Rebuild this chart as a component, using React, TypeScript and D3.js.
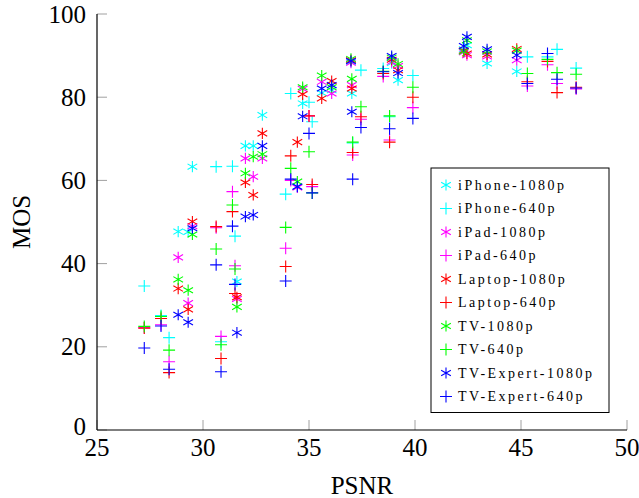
import * as d3 from 'd3';

// PSNR of each test condition (x), shared by all devices
const psnr1080 = [28.83, 29.3, 29.5, 31.6, 32.0, 32.37, 32.8, 34.45, 34.7, 35.6, 36.07, 36.98, 37.02, 38.9, 39.2, 42.3, 42.45, 43.4, 44.8];
const psnr640 = [27.23, 28.02, 28.4, 30.62, 30.85, 31.39, 31.51, 33.9, 34.14, 35.0, 35.15, 37.06, 37.45, 38.5, 38.8, 39.9, 45.3, 46.25, 46.7, 47.6];

// MOS per device, 1080p
const iphone1080 = [47.7, 47.6, 63.3, 35.7, 68.3, 68.3, 75.7, 58.5, 78.5, 81.0, 81.7, 88.5, 80.9, 88.2, 84.1, 91.5, 92.5, 88.1, 86.2];
const ipad1080 = [41.5, 30.5, 49.0, 31.5, 65.3, 60.9, 65.3, 58.3, 82.0, 83.7, 80.9, 88.3, 82.9, 88.5, 87.5, 90.8, 90.1, 89.8, 88.9];
const laptop1080 = [34.0, 29.0, 50.1, 31.9, 59.5, 56.5, 71.3, 69.2, 80.7, 79.7, 83.9, 88.9, 82.1, 89.0, 86.5, 91.2, 90.5, 90.3, 91.6];
const tv1080 = [36.2, 33.6, 47.0, 29.6, 61.7, 65.7, 66.3, 59.7, 82.4, 85.2, 82.4, 89.2, 84.4, 89.5, 88.0, 91.0, 93.7, 91.0, 91.2];
const expert1080 = [27.7, 25.9, 48.5, 23.4, 51.3, 51.7, 68.3, 58.5, 75.4, 82.1, 82.9, 88.7, 76.5, 89.9, 85.8, 92.3, 94.5, 91.5, 90.1];

// MOS per device, 640p
const iphone640 = [34.6, 27.5, 22.2, 63.3, 21.2, 63.4, 46.6, 56.7, 80.9, 78.8, 74.1, 69.0, 86.5, 86.9, 75.3, 85.2, 89.7, 89.7, 91.5, 87.0];
const ipad640 = [24.6, 25.3, 16.4, 48.6, 22.5, 57.3, 39.5, 43.7, 60.0, 75.5, 58.5, 66.1, 74.7, 85.0, 69.7, 77.5, 82.7, 87.8, 83.3, 82.0];
const laptop640 = [24.5, 26.8, 13.8, 48.9, 17.2, 52.5, 32.8, 39.3, 65.9, 75.5, 59.0, 66.7, 75.3, 85.7, 69.2, 80.0, 83.7, 88.6, 81.1, 82.4];
const tv640 = [24.9, 27.3, 19.2, 43.5, 20.5, 54.1, 38.7, 48.7, 62.9, 66.9, 57.0, 69.2, 77.7, 86.2, 75.5, 82.4, 85.7, 89.1, 85.9, 85.5];
const expert640 = [19.7, 25.0, 14.6, 39.7, 14.0, 49.0, 35.0, 35.8, 60.3, 71.3, 57.0, 60.3, 72.7, 86.1, 72.4, 74.9, 83.3, 90.5, 84.3, 82.2];

const xTicks = [25, 30, 35, 40, 45, 50];
const yTicks = [0, 20, 40, 60, 80, 100];

const series = [
  { name: 'iPhone-1080p', color: '#00ffff', mark: 'asterisk', xs: psnr1080, ys: iphone1080 },
  { name: 'iPhone-640p', color: '#00ffff', mark: 'plus', xs: psnr640, ys: iphone640 },
  { name: 'iPad-1080p', color: '#ff00ff', mark: 'asterisk', xs: psnr1080, ys: ipad1080 },
  { name: 'iPad-640p', color: '#ff00ff', mark: 'plus', xs: psnr640, ys: ipad640 },
  { name: 'Laptop-1080p', color: '#ff0000', mark: 'asterisk', xs: psnr1080, ys: laptop1080 },
  { name: 'Laptop-640p', color: '#ff0000', mark: 'plus', xs: psnr640, ys: laptop640 },
  { name: 'TV-1080p', color: '#00ff00', mark: 'asterisk', xs: psnr1080, ys: tv1080 },
  { name: 'TV-640p', color: '#00ff00', mark: 'plus', xs: psnr640, ys: tv640 },
  { name: 'TV-Expert-1080p', color: '#0000ff', mark: 'asterisk', xs: psnr1080, ys: expert1080 },
  { name: 'TV-Expert-640p', color: '#0000ff', mark: 'plus', xs: psnr640, ys: expert640 },
];

const W = 639;
const H = 498;
const margin = { top: 14, right: 12, bottom: 68, left: 97 };
const FONT = '"Liberation Serif", "Times New Roman", serif';

const PLUS_R = 6;
const AST_R = 5.6;
const c30 = Math.cos(Math.PI / 6);
const s30 = Math.sin(Math.PI / 6);

const plusPath = `M${-PLUS_R},0H${PLUS_R}M0,${-PLUS_R}V${PLUS_R}`;
const astPath =
  `M0,${-AST_R}V${AST_R}` +
  `M${-AST_R * c30},${-AST_R * s30}L${AST_R * c30},${AST_R * s30}` +
  `M${-AST_R * c30},${AST_R * s30}L${AST_R * c30},${-AST_R * s30}`;

function markPath(mark: string) {
  return mark === 'plus' ? plusPath : astPath;
}

export default function App() {
  const x = d3.scaleLinear().domain([25, 50]).range([margin.left, W - margin.right]);
  const y = d3.scaleLinear().domain([0, 100]).range([H - margin.bottom, margin.top]);

  const x0 = x.range()[0];
  const x1 = x.range()[1];
  const y0 = y.range()[0];
  const y1 = y.range()[1];

  // legend box
  const lg = { left: 431, top: 168, width: 178, rowH: 23.5, first: 17 };
  const lgHeight = lg.first + (series.length - 1) * lg.rowH + 16;

  return (
    <div style={{ position: 'absolute', left: 0, top: 0 }}>
      <svg width={W} height={H} style={{ display: 'block', background: '#fff' }} fontFamily={FONT}>
        {/* ticks */}
        {xTicks.map((t) => (
          <line key={'xt' + t} x1={x(t)} x2={x(t)} y1={y0} y2={y0 - 10} stroke="#a0a0a0" strokeWidth={1} />
        ))}
        {yTicks.map((t) => (
          <line key={'yt' + t} x1={x0} x2={x0 + 10} y1={y(t)} y2={y(t)} stroke="#a0a0a0" strokeWidth={1} />
        ))}

        {/* points */}
        {series.map((s) => (
          <g key={s.name} stroke={s.color} strokeWidth={1.1} fill="none">
            {s.xs.map((v, i) => (
              <path key={i} d={markPath(s.mark)} transform={`translate(${x(v)},${y(s.ys[i])})`} />
            ))}
          </g>
        ))}

        {/* axis lines */}
        <line x1={x0} x2={x0} y1={y0} y2={y1} stroke="#000" strokeWidth={1.2} />
        <line x1={x0} x2={x1} y1={y0} y2={y0} stroke="#000" strokeWidth={1.2} />

        {/* tick labels */}
        {xTicks.map((t) => (
          <text key={'xl' + t} x={x(t)} y={y0 + 17} textAnchor="middle" dominantBaseline="central" fontSize={25}>
            {t}
          </text>
        ))}
        {yTicks.map((t) => (
          <text key={'yl' + t} x={x0 - 11} y={t === 0 ? y(t) - 4 : y(t)} textAnchor="end" dominantBaseline="central" fontSize={25}>
            {t}
          </text>
        ))}

        {/* axis titles */}
        <text x={(x0 + x1) / 2} y={485} textAnchor="middle" dominantBaseline="central" fontSize={25}>
          PSNR
        </text>
        <text
          transform={`translate(21,${(y0 + y1) / 2}) rotate(-90)`}
          textAnchor="middle"
          dominantBaseline="central"
          fontSize={25}
        >
          MOS
        </text>

        {/* legend */}
        <g>
          <rect x={lg.left} y={lg.top} width={lg.width} height={lgHeight} fill="#fff" stroke="#000" strokeWidth={1} />
          {series.map((s, i) => {
            const cy = lg.top + lg.first + i * lg.rowH;
            return (
              <g key={'lg' + s.name}>
                <path d={markPath(s.mark)} transform={`translate(${lg.left + 15},${cy})`} stroke={s.color} strokeWidth={1.1} fill="none" />
                <text x={lg.left + 27} y={cy} dominantBaseline="central" fontSize={14} letterSpacing={2.5}>
                  {s.name}
                </text>
              </g>
            );
          })}
        </g>
      </svg>
    </div>
  );
}
